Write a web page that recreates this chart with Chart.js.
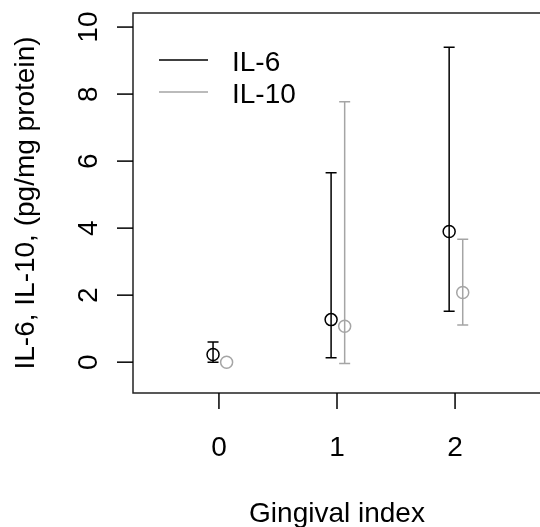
<!DOCTYPE html>
<html>
<head>
<meta charset="utf-8">
<script src="https://cdn.jsdelivr.net/npm/chart.js@4"></script>
<style>
  html, body { margin: 0; padding: 0; background: #fff; overflow: hidden; }
  canvas { display: block; }
</style>
</head>
<body>
<canvas id="plot" width="560" height="527"></canvas>
<script>
// gingival index groups
const gruplar = [0, 1, 2];
// IL-6: mean with lower / upper limits
const il6Ort = [0.23, 1.27, 3.9];
const il6Alt = [0.0, 0.13, 1.52];
const il6Ust = [0.6, 5.65, 9.4];
// IL-10
const il10Ort = [0.0, 1.07, 2.08];
const il10Alt = [0.0, -0.04, 1.11];
const il10Ust = [0.0, 7.77, 3.67];
// tick labels
const xTikler = [0, 1, 2];
const yTikler = [0, 2, 4, 6, 8, 10];
const seriAdlari = ['IL-6', 'IL-10'];

const siyah = '#000000';
const gri = 'rgb(165,165,165)';
const kayma = [-0.05, 0.065];
const yazi = '28px "Liberation Sans", Arial, sans-serif';

function noktalar(ort, k) {
  return gruplar.map((g, i) => ({ x: g + k, y: ort[i] }));
}

const seriler = [
  { ort: il6Ort, alt: il6Alt, ust: il6Ust, renk: siyah, k: kayma[0] },
  { ort: il10Ort, alt: il10Alt, ust: il10Ust, renk: gri, k: kayma[1] }
];

const hataCubugu = {
  id: 'hataCubugu',
  beforeDatasetsDraw(chart) {
    const ctx = chart.ctx, xs = chart.scales.x, ys = chart.scales.y;
    ctx.save();
    ctx.lineWidth = 1.5;
    seriler.forEach(s => {
      ctx.strokeStyle = s.renk;
      gruplar.forEach((g, i) => {
        if (s.ust[i] - s.alt[i] < 0.01) return;
        const x = xs.getPixelForValue(g + s.k);
        const y1 = ys.getPixelForValue(s.alt[i]);
        const y2 = ys.getPixelForValue(s.ust[i]);
        ctx.beginPath();
        ctx.moveTo(x, y1); ctx.lineTo(x, y2);
        ctx.moveTo(x - 5.5, y1); ctx.lineTo(x + 5.5, y1);
        ctx.moveTo(x - 5.5, y2); ctx.lineTo(x + 5.5, y2);
        ctx.stroke();
      });
    });
    ctx.restore();
  },
  afterDraw(chart) {
    const ctx = chart.ctx, a = chart.chartArea, xs = chart.scales.x, ys = chart.scales.y;
    ctx.save();
    // box (right side falls outside the window)
    ctx.strokeStyle = '#222';
    ctx.lineWidth = 1.5;
    ctx.beginPath();
    ctx.moveTo(a.right + 5, a.top);
    ctx.lineTo(a.left, a.top);
    ctx.lineTo(a.left, a.bottom);
    ctx.lineTo(a.right + 5, a.bottom);
    ctx.stroke();
    ctx.fillStyle = '#000';
    ctx.strokeStyle = '#000';
    ctx.font = yazi;
    // x axis
    ctx.textAlign = 'center';
    ctx.textBaseline = 'middle';
    xTikler.forEach(t => {
      const x = xs.getPixelForValue(t);
      ctx.beginPath();
      ctx.moveTo(x, a.bottom); ctx.lineTo(x, a.bottom + 16);
      ctx.stroke();
      ctx.fillText(String(t), x, 448);
    });
    ctx.fillText('Gingival index', (a.left + a.right) / 2, 514);
    // y axis
    yTikler.forEach(t => {
      const y = ys.getPixelForValue(t);
      ctx.beginPath();
      ctx.moveTo(a.left, y); ctx.lineTo(a.left - 16, y);
      ctx.stroke();
      ctx.save();
      ctx.translate(89, y);
      ctx.rotate(-Math.PI / 2);
      ctx.fillText(String(t), 0, 0);
      ctx.restore();
    });
    ctx.save();
    ctx.translate(26, (a.top + a.bottom) / 2);
    ctx.rotate(-Math.PI / 2);
    ctx.fillText('IL-6, IL-10, (pg/mg protein)', 0, 0);
    ctx.restore();
    // legend
    ctx.textAlign = 'left';
    seriAdlari.forEach((ad, i) => {
      const y = 60 + i * 32;
      ctx.strokeStyle = seriler[i].renk;
      ctx.lineWidth = 1.5;
      ctx.beginPath();
      ctx.moveTo(159, y); ctx.lineTo(208, y);
      ctx.stroke();
      ctx.fillText(ad, 232, y + 3);
    });
    ctx.restore();
  }
};

new Chart(document.getElementById('plot'), {
  type: 'scatter',
  data: {
    datasets: seriler.map((s, i) => ({
      label: seriAdlari[i],
      data: noktalar(s.ort, s.k),
      pointStyle: 'circle',
      pointRadius: 6,
      pointHoverRadius: 6,
      borderColor: s.renk,
      backgroundColor: 'rgba(0,0,0,0)',
      borderWidth: 1.5
    }))
  },
  options: {
    responsive: false,
    animation: false,
    events: [],
    layout: { padding: { left: 133, right: 19, top: 13, bottom: 134 } },
    plugins: { legend: { display: false }, tooltip: { enabled: false } },
    scales: {
      x: { type: 'linear', display: false, min: -0.728, max: 2.728 },
      y: { type: 'linear', display: false, min: -0.92, max: 10.42 }
    }
  },
  plugins: [hataCubugu]
});
</script>
</body>
</html>
